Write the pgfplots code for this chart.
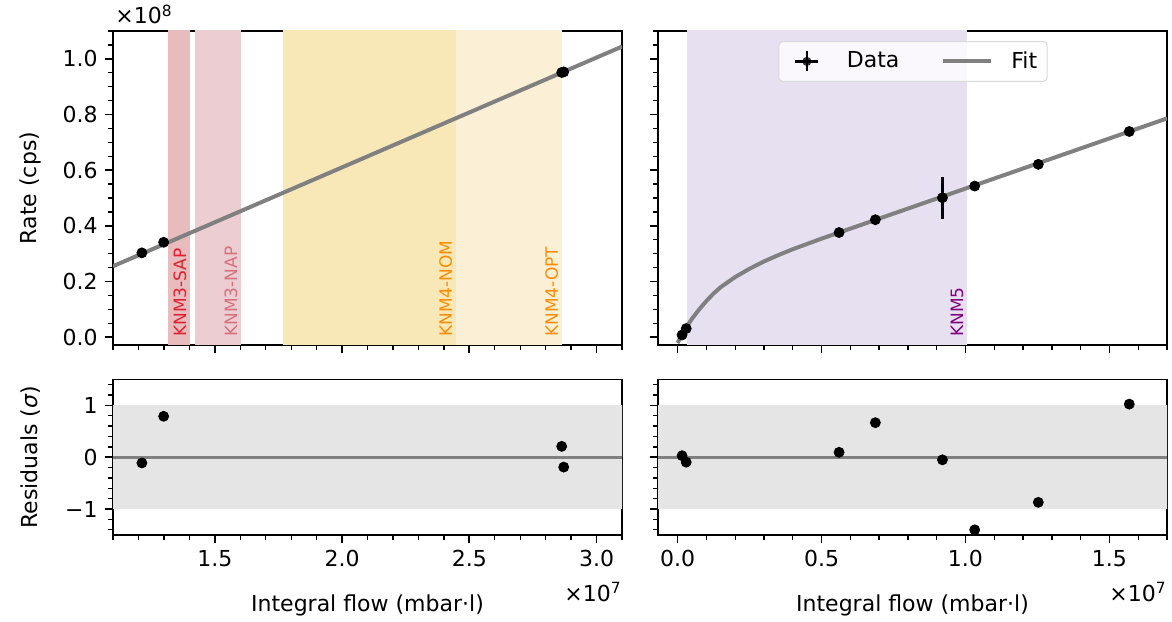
\documentclass[border=0pt]{standalone}
\usepackage{fontspec}
\setmainfont{DejaVu Sans}
\usepackage{pgfplots}
\pgfplotsset{compat=1.18}

\definecolor{sapband}{HTML}{E8BBBD}
\definecolor{napband}{HTML}{EBCDD2}
\definecolor{nomband}{HTML}{F8E8B8}
\definecolor{optband}{HTML}{FBF0D6}
\definecolor{knmfive}{HTML}{E6E0F0}
\definecolor{saptext}{HTML}{E0202F}
\definecolor{naptext}{HTML}{D8707E}
\definecolor{knmorange}{HTML}{FF8C00}
\definecolor{knmpurple}{HTML}{800080}
\definecolor{resband}{HTML}{E5E5E5}
\definecolor{fitgray}{HTML}{808080}

\tikzset{bandlabel/.style={rotate=90, anchor=south west, inner sep=0pt, text depth=1.8pt,
    font=\fontsize{8.5}{9}\selectfont}}

\pgfplotsset{
  panel/.style={
    scale only axis,
    width=254.5pt,
    axis line style={line width=0.85pt},
    tick align=outside,
    tick pos=left,
    major tick length=4.2pt,
    minor tick length=2.6pt,
    tick style={black, line width=0.85pt},
    minor tick style={black, line width=0.65pt},
    ticklabel style={font=\fontsize{11}{13}\selectfont},
    label style={font=\fontsize{11}{13}\selectfont},
    /pgf/number format/assume math mode=true,
    scaled ticks=false,
  },
  toppanel/.style={panel, height=157pt, ymin=-0.028, ymax=1.1,
    ytick={0,0.2,0.4,0.6,0.8,1.0},
    minor ytick={0,0.05,...,1.1},
    xticklabels={}},
  botpanel/.style={panel, height=77.75pt, ymin=-1.5, ymax=1.5,
    ytick={-1,0,1},
    minor ytick={-1.4,-1.2,...,1.4}},
  leftx/.style={xmin=1.1, xmax=3.1, xtick={1.5,2,2.5,3},
    minor xtick={1.1,1.2,...,3.1}},
  rightx/.style={xmin=-0.068, xmax=1.7, xtick={0,0.5,1.0,1.5},
    minor xtick={0,0.1,...,1.7}},
  xlab/.style={xlabel={Integral flow (mbar·l)},
    xlabel style={at={(rel axis cs:0.5,0)}, anchor=north, yshift=-29.5pt, inner sep=0pt},
    after end axis/.code={\node[anchor=north east, inner sep=0pt, yshift=-23.5pt,
      font=\fontsize{11}{13}\selectfont] at (rel axis cs:1,0) {×10\textsuperscript{7}};}},
  ylab/.style={ylabel style={at={(rel axis cs:-0.141,0.5)}, anchor=south, inner sep=0pt}},
}

\begin{document}
\begin{tikzpicture}
\path[use as bounding box] (0,0) rectangle (586pt,310.5pt);

% ---------------- top left ----------------
\begin{axis}[toppanel, leftx, ylab, at={(56.5pt,138pt)}, anchor=south west,
  ylabel={Rate (cps)},
  yticklabels={0.0,0.2,0.4,0.6,0.8,1.0},
  after end axis/.code={\node[anchor=base west, inner sep=0pt, xshift=1pt, yshift=3.5pt,
      font=\fontsize{11}{13}\selectfont] at (rel axis cs:0,1) {×10\textsuperscript{8}};}]
\addplot[draw=none, fill=sapband, forget plot] coordinates {(1.315,-1)(1.403,-1)(1.403,2)(1.315,2)} -- cycle;
\addplot[draw=none, fill=napband, forget plot] coordinates {(1.422,-1)(1.603,-1)(1.603,2)(1.422,2)} -- cycle;
\addplot[draw=none, fill=nomband, forget plot] coordinates {(1.769,-1)(2.447,-1)(2.447,2)(1.769,2)} -- cycle;
\addplot[draw=none, fill=optband, forget plot] coordinates {(2.447,-1)(2.864,-1)(2.864,2)(2.447,2)} -- cycle;
\node[bandlabel, text=saptext] at (axis cs:1.403,0) {KNM3-SAP};
\node[bandlabel, text=naptext] at (axis cs:1.603,0) {KNM3-NAP};
\node[bandlabel, text=knmorange] at (axis cs:2.447,0) {KNM4-NOM};
\node[bandlabel, text=knmorange] at (axis cs:2.864,0) {KNM4-OPT};
\addplot[fitgray, line width=2pt] coordinates {(1.1,0.255)(3.1,1.044)};
\addplot[only marks, mark=*, mark size=2.5pt, black] coordinates {
  (1.2135,0.303) (1.299,0.341) (2.863,0.951) (2.871,0.953)};
\end{axis}

% ---------------- top right ----------------
\begin{axis}[toppanel, rightx, at={(329pt,138pt)}, anchor=south west,
  yticklabels={},
  legend columns=2,
  legend cell align=left,
  legend style={at={(0.501,0.968)}, anchor=north, draw=black!15, line width=0.5pt,
    rounded corners=2pt, fill=white, fill opacity=0.8, text opacity=1,
    inner xsep=3pt, inner ysep=3pt,
    font=\fontsize{11}{13}\selectfont,
    /tikz/every odd column/.append style={column sep=7pt},
    /tikz/every even column/.append style={column sep=19pt}}]
\addlegendimage{legend image code/.code={
  \path[draw=none, fill=none] (0pt,-5pt) (22pt,5pt);
  \draw[black, line width=1.2pt, fill=none, rounded corners=0pt] (11pt,-5pt) -- (11pt,5pt);
  \draw[black, line width=1.2pt, fill=none, rounded corners=0pt] (5.2pt,0pt) -- (16.8pt,0pt);
  \fill[black, draw=none] (11pt,0pt) circle (2.3pt);}}
\addlegendentry{Data}
\addlegendimage{legend image code/.code={\draw[fitgray, line width=2pt, fill=none, rounded corners=0pt] (0pt,0pt) -- (24pt,0pt);}}
\addlegendentry{Fit}
\addplot[draw=none, fill=knmfive, forget plot] coordinates {(0.031,-1)(1.006,-1)(1.006,2)(0.031,2)} -- cycle;
\node[bandlabel, text=knmpurple] at (axis cs:1.006,0) {KNM5};
\addplot[fitgray, line width=2pt, forget plot] coordinates {
  (0,-0.021) (0.005,-0.011) (0.01,-0.001) (0.02,0.017) (0.03,0.034) (0.04,0.051)
  (0.05,0.066) (0.075,0.100) (0.1,0.130) (0.125,0.157) (0.15,0.180) (0.2,0.216)
  (0.25,0.246) (0.3,0.272) (0.35,0.295) (0.4,0.316) (0.5,0.354) (0.6,0.390)
  (0.8,0.462) (1.0,0.534) (1.2,0.606) (1.4,0.678) (1.6,0.750) (1.7,0.786)};
\addplot[only marks, mark=*, mark size=2.5pt, black, forget plot,
  error bars/.cd, y dir=both, y explicit, error mark=none,
  error bar style={line width=1.2pt, black}] coordinates {
  (0.0156,0.008) +- (0,0)
  (0.030,0.031) +- (0,0)
  (0.561,0.376) +- (0,0)
  (0.687,0.422) +- (0,0)
  (0.920,0.501) +- (0,0.075)
  (1.032,0.543) +- (0,0)
  (1.253,0.621) +- (0,0)
  (1.569,0.739) +- (0,0)};
\end{axis}

% ---------------- bottom left ----------------
\begin{axis}[botpanel, leftx, ylab, xlab, at={(56.5pt,43pt)}, anchor=south west,
  ylabel={Residuals (\textit{σ})},
  xticklabels={1.5,2.0,2.5,3.0},
  yticklabels={−1,0,1}]
\addplot[draw=none, fill=resband, forget plot] coordinates {(1,-1)(3.2,-1)(3.2,1)(1,1)} -- cycle;
\addplot[fitgray, line width=1.5pt] coordinates {(1.1,0)(3.1,0)};
\addplot[only marks, mark=*, mark size=2.5pt, black] coordinates {
  (1.2135,-0.11) (1.299,0.79) (2.863,0.21) (2.871,-0.19)};
\end{axis}

% ---------------- bottom right ----------------
\begin{axis}[botpanel, rightx, xlab, at={(329pt,43pt)}, anchor=south west,
  xticklabels={0.0,0.5,1.0,1.5},
  yticklabels={}]
\addplot[draw=none, fill=resband, forget plot] coordinates {(-0.2,-1)(1.8,-1)(1.8,1)(-0.2,1)} -- cycle;
\addplot[fitgray, line width=1.5pt] coordinates {(-0.068,0)(1.7,0)};
\addplot[only marks, mark=*, mark size=2.5pt, black] coordinates {
  (0.0156,0.03) (0.030,-0.095) (0.561,0.095) (0.687,0.667) (0.920,-0.05)
  (1.032,-1.40) (1.253,-0.87) (1.569,1.025)};
\end{axis}
\end{tikzpicture}
\end{document}
